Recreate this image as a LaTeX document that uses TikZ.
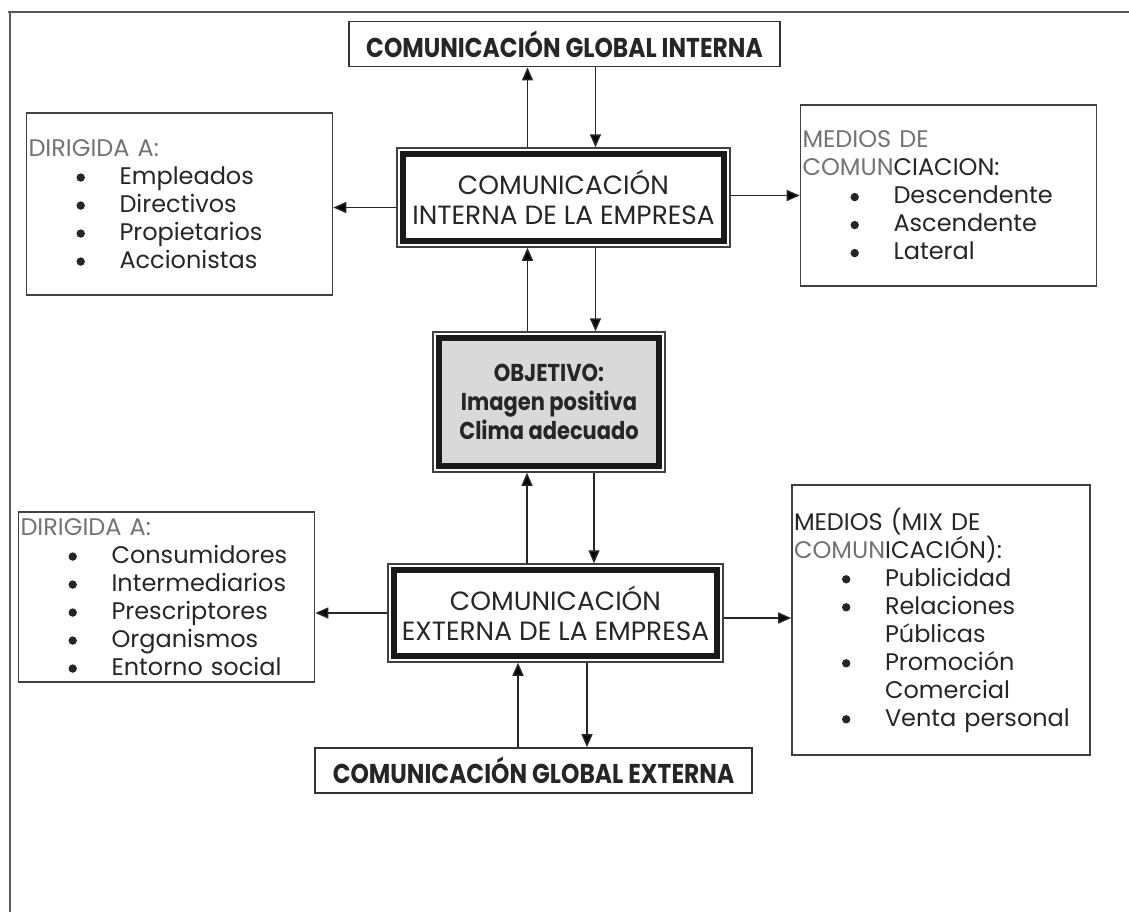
\documentclass[tikz,border=0pt]{standalone}
\usepackage{fontspec}
\setmainfont{Poppins}
\newfontfamily\narrowbold[FakeStretch=0.86]{Poppins}
\usetikzlibrary{arrows.meta,fit}

\newcommand{\bul}{\hspace*{24pt}\makebox[21.5pt][l]{\tikz[baseline=-3.4pt]\fill[black!85] (0,0) circle (2.1pt);}}
\newcommand{\cont}{\hspace*{45.5pt}}

\begin{document}
\begin{tikzpicture}[x=0.5pt,y=-0.5pt,
  list/.style={draw=black!75,line width=0.8pt,align=left,inner sep=1pt,
    text=black!85,font=\fontsize{12}{14}\selectfont},
  main/.style={draw=black!90,line width=3pt,align=center,inner sep=0pt,
    text=black!85,font=\fontsize{13.2}{15}\selectfont},
  frame/.style={draw=black!75,line width=0.75pt,inner sep=1.5pt},
  global/.style={draw=black!80,line width=0.9pt,inner sep=0pt,
    text=black!85,font=\narrowbold\bfseries\fontsize{13.6}{14}\selectfont},
  flow/.style={-{Triangle[length=6.5pt,width=5.5pt]},line width=0.75pt,draw=black!85}]
\useasboundingbox (0,0) rectangle (1129,912);
% outer frame of the page
\draw[black!65,line width=0.75pt] (8,12) -- (1129,12);
\draw[black!65,line width=0.75pt] (10,12) -- (10,912);

\node[global,minimum width=215.5pt,minimum height=22.5pt] (globint) at (564.5,44)
  {COMUNICACIÓN GLOBAL INTERNA};
\node[main,minimum width=160.5pt,minimum height=43.5pt] (interna) at (563.5,197.5)
  {COMUNICACIÓN\\INTERNA DE LA EMPRESA};
\node[frame,fit=(interna)] (internaF) {};
\node[main,fill=black!15,minimum width=110pt,minimum height=64pt,
  font=\narrowbold\bfseries\fontsize{12.2}{14.5}\selectfont] (obj) at (549,402)
  {OBJETIVO:\\Imagen positiva\\Clima adecuado};
\node[frame,fit=(obj)] (objF) {};
\node[main,minimum width=161.5pt,minimum height=43pt] (externa) at (555.5,613)
  {COMUNICACIÓN\\EXTERNA DE LA EMPRESA};
\node[frame,fit=(externa)] (externaF) {};
\node[global,minimum width=218.5pt,minimum height=22.5pt] (globext) at (533.5,770.5)
  {COMUNICACIÓN GLOBAL EXTERNA};

\node[list,text width=151pt,minimum height=91pt] (dir1) at (179.5,204)
  {{\color{black!55}DIRIGIDA A:}\\
  \bul Empleados\\ \bul Directivos\\ \bul Propietarios\\ \bul Accionistas};
\node[list,text width=146pt,minimum height=90.5pt] (medios1) at (948.5,195.5)
  {{\color{black!55}MEDIOS DE}\\
  {\color{black!55}COMUN}CIACION:\\
  \bul Descendente\\ \bul Ascendente\\ \bul Lateral};
\node[list,text width=146pt,minimum height=85pt] (dir2) at (166.5,597)
  {{\color{black!55}DIRIGIDA A:}\\
  \bul Consumidores\\ \bul Intermediarios\\ \bul Prescriptores\\
  \bul Organismos\\ \bul Entorno social};
\node[list,text width=147pt,minimum height=135pt] (medios2) at (941,620)
  {MEDIOS (MIX DE\\
  {\color{black!55}COMUN}ICACIÓN):\\
  \bul Publicidad\\ \bul Relaciones\\ \cont Públicas\\
  \bul Promoción\\ \cont Comercial\\ \bul Venta personal};

% internal communication
\draw[flow] ([xshift=-18pt]internaF.north) -- ([xshift=-18pt]internaF.north |- globint.south);
\draw[flow] ([xshift=16pt]internaF.north |- globint.south) -- ([xshift=16pt]internaF.north);
\draw[flow] ([yshift=-5pt]internaF.west) -- ([yshift=-5pt]internaF.west -| dir1.east);
\draw[flow] ([yshift=1pt]internaF.east) -- ([yshift=1pt]internaF.east -| medios1.west);
\draw[flow] ([xshift=-18pt]internaF.south |- objF.north) -- ([xshift=-18pt]internaF.south);
\draw[flow] ([xshift=16pt]internaF.south) -- ([xshift=16pt]internaF.south |- objF.north);
% external communication
\draw[flow] ([xshift=-11pt]objF.south |- externaF.north) -- ([xshift=-11pt]objF.south);
\draw[flow] ([xshift=22.5pt]objF.south) -- ([xshift=22.5pt]objF.south |- externaF.north);
\draw[flow] (externaF.west) -- (externaF.west -| dir2.east);
\draw[flow] ([yshift=-2.5pt]externaF.east) -- ([yshift=-2.5pt]externaF.east -| medios2.west);
\draw[flow] ([xshift=-18.75pt]externaF.south |- globext.north) -- ([xshift=-18.75pt]externaF.south);
\draw[flow] ([xshift=15.75pt]externaF.south) -- ([xshift=15.75pt]externaF.south |- globext.north);
\end{tikzpicture}
\end{document}
